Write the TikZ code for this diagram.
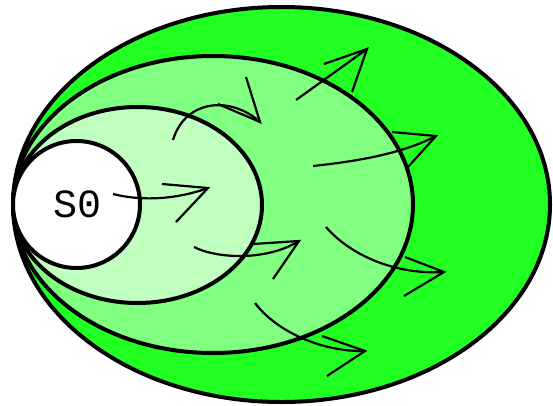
\documentclass[tikz,border=0pt]{standalone}
\usepackage{fontspec}
\newfontfamily\monof{Liberation Mono}
\definecolor{gOuter}{RGB}{34,255,34}
\definecolor{gMid}{RGB}{128,255,128}
\definecolor{gIn}{RGB}{192,255,192}
\begin{document}
\begin{tikzpicture}[x=1pt,y=-1pt,
  region/.style={draw=black,line width=4pt},
  flow/.style={draw=black,line width=2.2pt,line join=miter}]
\useasboundingbox (0,0) rectangle (553,406);
\begin{scope}
\clip (0,0) rectangle (553,406);
\path[region,fill=gOuter] (281.5,204.5) ellipse [x radius=268.5pt, y radius=197.5pt];
\end{scope}
\path[region,fill=gMid] (213,204.5) ellipse [x radius=200pt, y radius=148.5pt];
\path[region,fill=gIn] (137.5,205) ellipse [x radius=124.5pt, y radius=98pt];
\path[region,fill=white] (76.5,204.5) circle [radius=63.5pt];
\node[font=\monof\fontsize{40}{40}\selectfont] (s0) at (78,204) {S0};
% arrows
\coordinate (a1) at (113,194); \coordinate (a2) at (208,188);
\draw[flow] (a1) .. controls (140,201) and (175,200) .. (a2);
\draw[flow] (162,184) -- (a2) -- (176,222);
\coordinate (b1) at (173,140); \coordinate (b2) at (260,122);
\draw[flow] (b1) .. controls (185,100) and (230,95) .. (b2);
\draw[flow] (218,104) -- (b2) -- (246,77);
\coordinate (c1) at (296,100); \coordinate (c2) at (367,49);
\draw[flow] (c1) -- (c2);
\draw[flow] (324,64) -- (c2) -- (352,92);
\coordinate (d1) at (313,166); \coordinate (d2) at (436,136);
\draw[flow] (d1) .. controls (350,162) and (400,155) .. (d2);
\draw[flow] (392,132) -- (d2) -- (408,167);
\coordinate (e1) at (194,247); \coordinate (e2) at (299,241);
\draw[flow] (e1) .. controls (215,258) and (265,262) .. (e2);
\draw[flow] (253,244) -- (e2) -- (273,279);
\coordinate (f1) at (326,227); \coordinate (f2) at (444,272);
\draw[flow] (f1) .. controls (350,255) and (395,275) .. (f2);
\draw[flow] (405,257) -- (f2) -- (404,296);
\coordinate (g1) at (255,303); \coordinate (g2) at (365,351);
\draw[flow] (g1) .. controls (275,330) and (320,352) .. (g2);
\draw[flow] (322,336) -- (g2) -- (327,376);
\end{tikzpicture}
\end{document}
